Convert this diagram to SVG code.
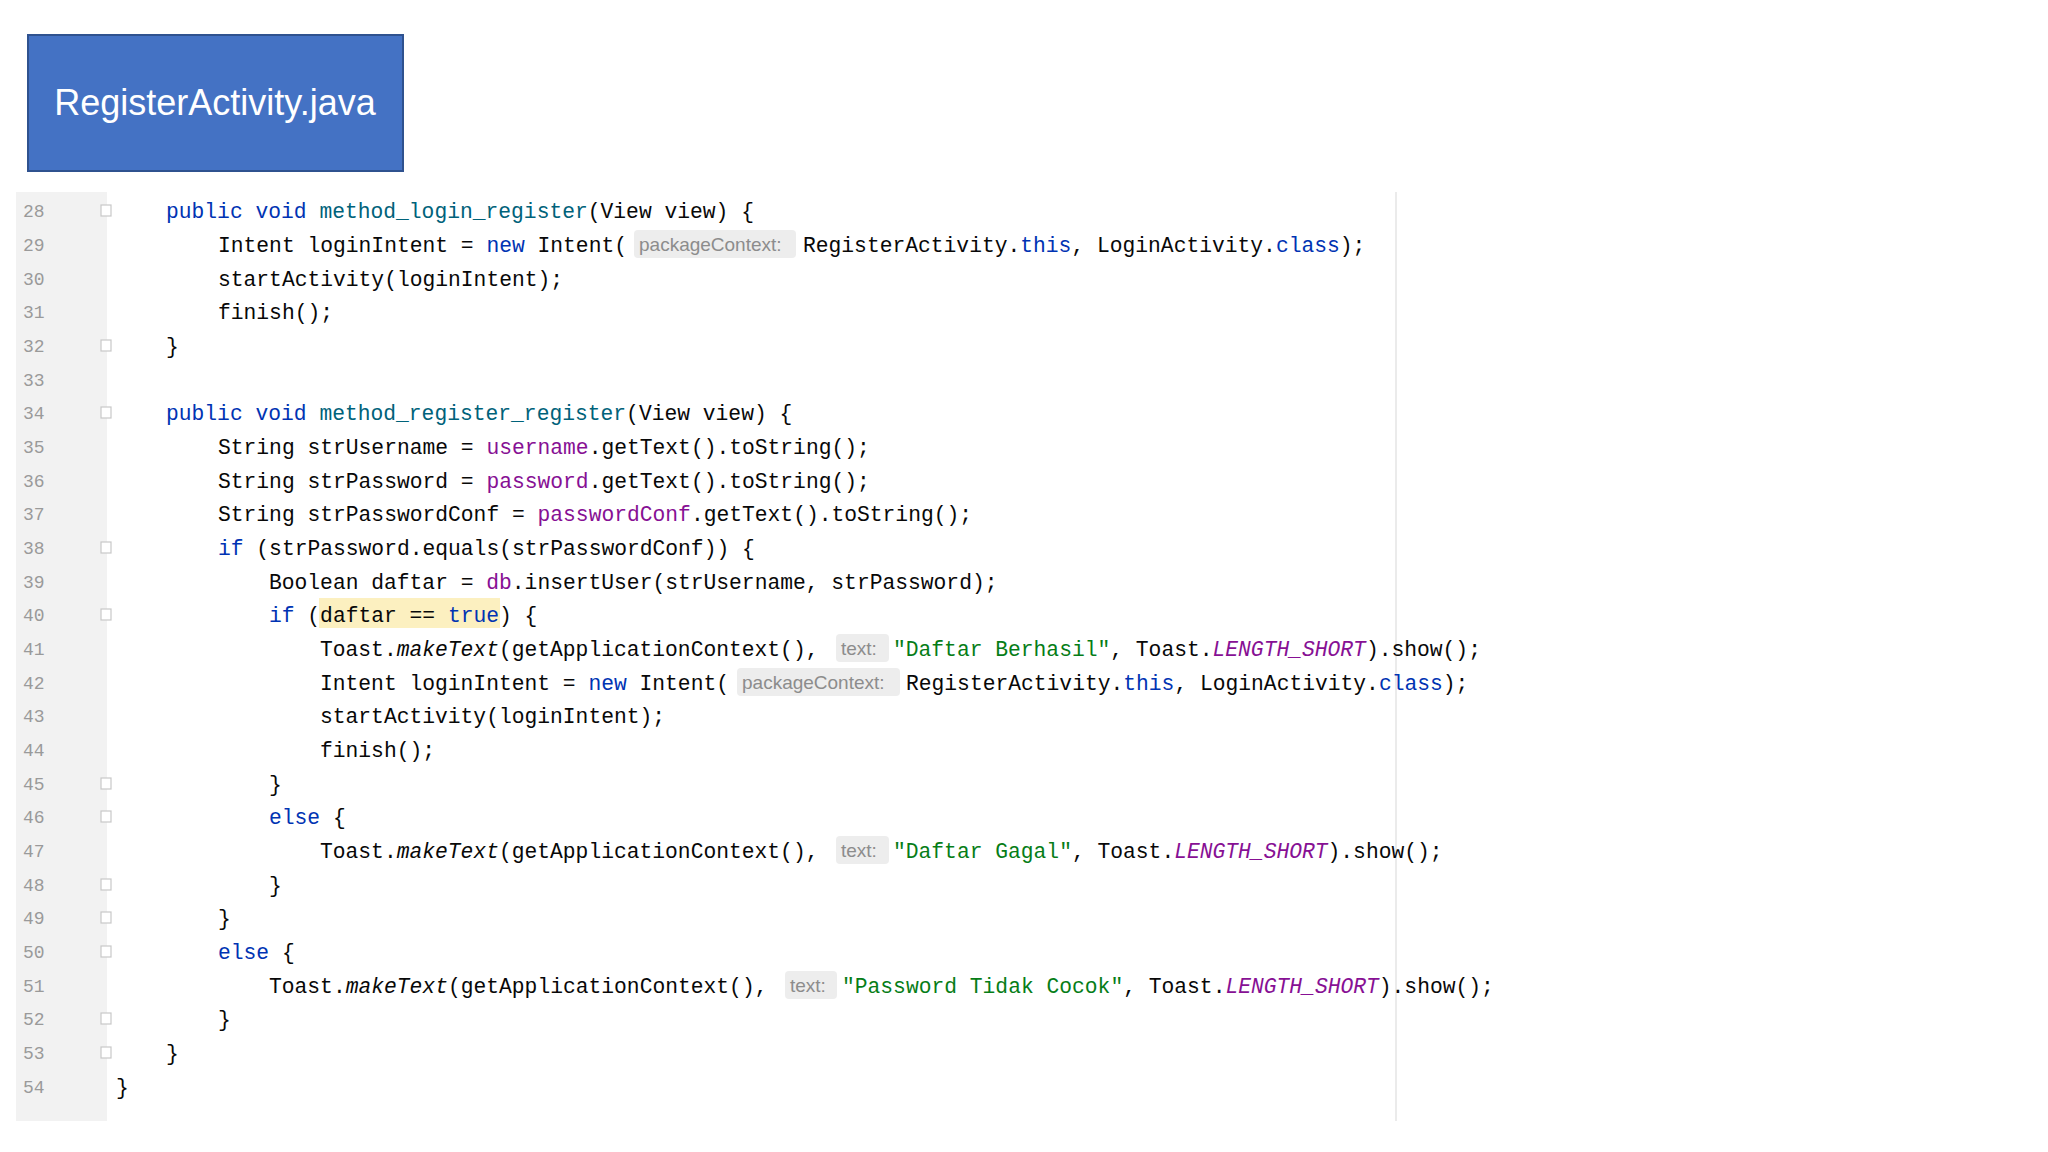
<svg xmlns="http://www.w3.org/2000/svg" width="2048" height="1152" viewBox="0 0 2048 1152">
<style>
.c{font-family:"Liberation Mono",monospace;font-size:21.3px;fill:#080808;white-space:pre}
.n{font-family:"Liberation Mono",monospace;font-size:18px;fill:#9a9a9a}
.k{fill:#0033B3}.m{fill:#00627A}.f{fill:#871094}.s{fill:#067D17}.i{font-style:italic;fill:#871094}
.h{font-family:"Liberation Sans",sans-serif;font-size:19px;fill:#8c8c8c}
.hb{fill:#EDEDED}
.fold{fill:#fff;stroke:#c8c8c8;stroke-width:1.2}
</style>
<rect width="2048" height="1152" fill="#fff"/>
<g id="title">
<rect x="28" y="35" width="375" height="136" fill="#4472C4" stroke="#2F528F" stroke-width="2"/>
<text x="215" y="115" text-anchor="middle" font-family="Liberation Sans,sans-serif" font-size="36" fill="#fff">RegisterActivity.java</text>
</g>
<g id="editor">
<rect x="16" y="192" width="91" height="929" fill="#f2f2f2"/>
<line x1="1396" y1="192" x2="1396" y2="1121" stroke="#e4e4e4" stroke-width="1.5"/>
<rect x="319" y="598" width="181" height="30" fill="#FCF0C0"/>
<g class="n">
<text x="23" y="217">28</text><text x="23" y="251">29</text><text x="23" y="285">30</text><text x="23" y="318">31</text><text x="23" y="352">32</text><text x="23" y="386">33</text><text x="23" y="419">34</text><text x="23" y="453">35</text><text x="23" y="487">36</text><text x="23" y="520">37</text><text x="23" y="554">38</text><text x="23" y="588">39</text><text x="23" y="621">40</text><text x="23" y="655">41</text><text x="23" y="689">42</text><text x="23" y="722">43</text><text x="23" y="756">44</text><text x="23" y="790">45</text><text x="23" y="823">46</text><text x="23" y="857">47</text><text x="23" y="891">48</text><text x="23" y="924">49</text><text x="23" y="958">50</text><text x="23" y="992">51</text><text x="23" y="1025">52</text><text x="23" y="1059">53</text><text x="23" y="1093">54</text>
</g>
<g>
<rect class="fold" x="101" y="205" width="10" height="11"/><rect class="fold" x="101" y="340" width="10" height="11"/><rect class="fold" x="101" y="407" width="10" height="11"/><rect class="fold" x="101" y="542" width="10" height="11"/><rect class="fold" x="101" y="609" width="10" height="11"/><rect class="fold" x="101" y="778" width="10" height="11"/><rect class="fold" x="101" y="811" width="10" height="11"/><rect class="fold" x="101" y="879" width="10" height="11"/><rect class="fold" x="101" y="912" width="10" height="11"/><rect class="fold" x="101" y="946" width="10" height="11"/><rect class="fold" x="101" y="1013" width="10" height="11"/><rect class="fold" x="101" y="1047" width="10" height="11"/>
</g>
<rect class="hb" x="634" y="230" width="162" height="28" rx="4"/>
<rect class="hb" x="737" y="668" width="163" height="28" rx="4"/>
<rect class="hb" x="836" y="634" width="53" height="28" rx="4"/>
<rect class="hb" x="836" y="836" width="53" height="28" rx="4"/>
<rect class="hb" x="785" y="971" width="52" height="28" rx="4"/>
<g class="c">
<text x="166" y="218"><tspan class="k">public void </tspan><tspan class="m">method_login_register</tspan>(View view) {</text>
<text x="218" y="252">Intent loginIntent = <tspan class="k">new</tspan> Intent(<tspan x="803">RegisterActivity.</tspan><tspan class="k">this</tspan>, LoginActivity.<tspan class="k">class</tspan>);</text>
<text x="218" y="286">startActivity(loginIntent);</text>
<text x="218" y="319">finish();</text>
<text x="166" y="353">}</text>
<text x="166" y="420"><tspan class="k">public void </tspan><tspan class="m">method_register_register</tspan>(View view) {</text>
<text x="218" y="454">String strUsername = <tspan class="f">username</tspan>.getText().toString();</text>
<text x="218" y="488">String strPassword = <tspan class="f">password</tspan>.getText().toString();</text>
<text x="218" y="521">String strPasswordConf = <tspan class="f">passwordConf</tspan>.getText().toString();</text>
<text x="218" y="555"><tspan class="k">if</tspan> (strPassword.equals(strPasswordConf)) {</text>
<text x="269" y="589">Boolean daftar = <tspan class="f">db</tspan>.insertUser(strUsername, strPassword);</text>
<text x="269" y="622"><tspan class="k">if</tspan> (daftar == <tspan class="k">true</tspan>) {</text>
<text x="320" y="656">Toast.<tspan font-style="italic">makeText</tspan>(getApplicationContext(),<tspan x="893" class="s">"Daftar Berhasil"</tspan>, Toast.<tspan class="i">LENGTH_SHORT</tspan>).show();</text>
<text x="320" y="690">Intent loginIntent = <tspan class="k">new</tspan> Intent(<tspan x="906">RegisterActivity.</tspan><tspan class="k">this</tspan>, LoginActivity.<tspan class="k">class</tspan>);</text>
<text x="320" y="723">startActivity(loginIntent);</text>
<text x="320" y="757">finish();</text>
<text x="269" y="791">}</text>
<text x="269" y="824"><tspan class="k">else</tspan> {</text>
<text x="320" y="858">Toast.<tspan font-style="italic">makeText</tspan>(getApplicationContext(),<tspan x="893" class="s">"Daftar Gagal"</tspan>, Toast.<tspan class="i">LENGTH_SHORT</tspan>).show();</text>
<text x="269" y="892">}</text>
<text x="218" y="925">}</text>
<text x="218" y="959"><tspan class="k">else</tspan> {</text>
<text x="269" y="993">Toast.<tspan font-style="italic">makeText</tspan>(getApplicationContext(),<tspan x="842" class="s">"Password Tidak Cocok"</tspan>, Toast.<tspan class="i">LENGTH_SHORT</tspan>).show();</text>
<text x="218" y="1026">}</text>
<text x="166" y="1060">}</text>
<text x="116" y="1094">}</text>
</g>
<g class="h">
<text x="639" y="251">packageContext:</text>
<text x="742" y="689">packageContext:</text>
<text x="841" y="655">text:</text>
<text x="841" y="857">text:</text>
<text x="790" y="992">text:</text>
</g>
</g>
</svg>
